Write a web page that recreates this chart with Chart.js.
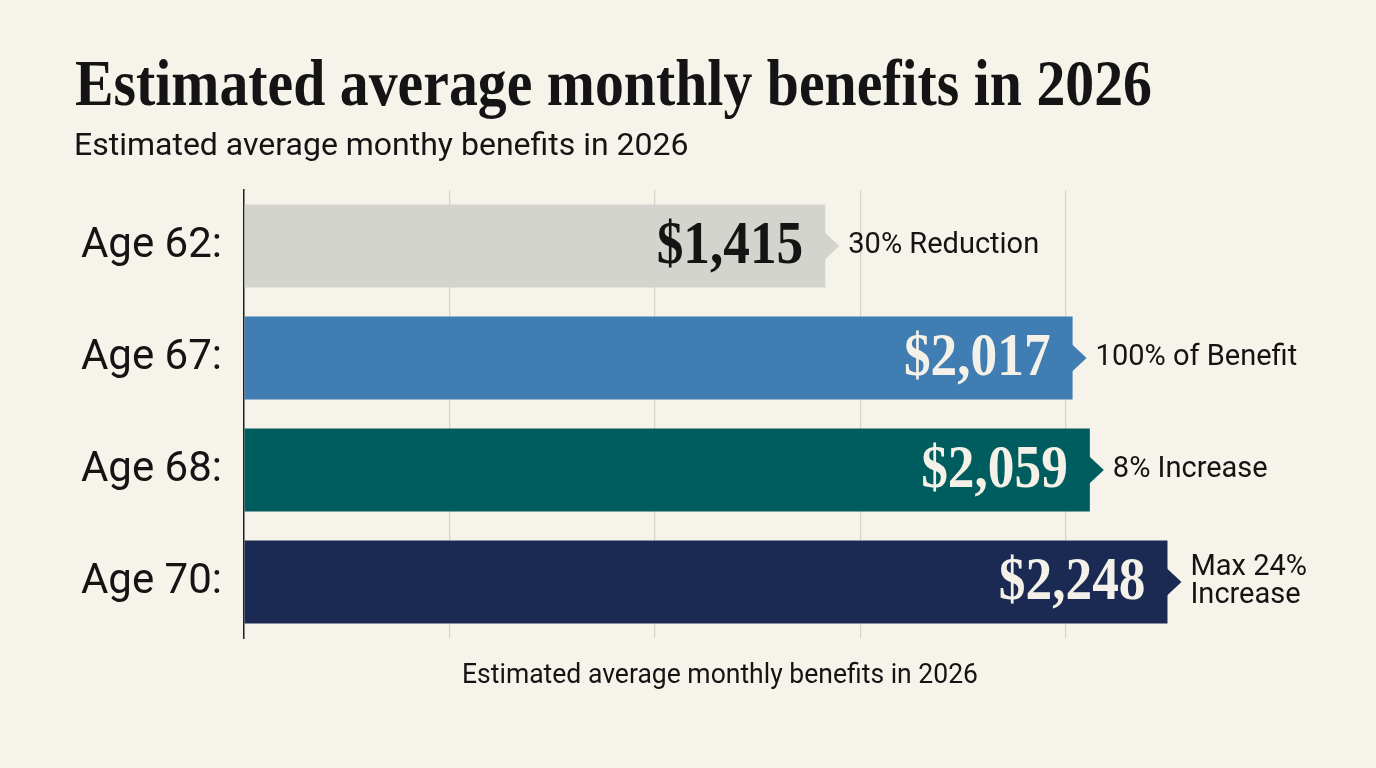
<!DOCTYPE html>
<html>
<head>
<meta charset="utf-8">
<title>Estimated average monthly benefits in 2026</title>
<script src="https://cdn.jsdelivr.net/npm/chart.js@4.4.1/dist/chart.umd.min.js"></script>
<style>
  html, body { margin: 0; padding: 0; background: #f6f3ea; }
  #wrap { width: 1376px; height: 768px; position: relative; }
</style>
</head>
<body>
<div id="wrap"><canvas id="benefitsChart"></canvas></div>
<script>
// data
var ages = ['Age 62:', 'Age 67:', 'Age 68:', 'Age 70:'];
var benefits = [1415, 2017, 2059, 2248];
var valueLabels = ['$1,415', '$2,017', '$2,059', '$2,248'];
var notes = [['30% Reduction'], ['100% of Benefit'], ['8% Increase'], ['Max 24%', 'Increase']];
var gridTicks = [500, 1000, 1500, 2000];

var titleText = 'Estimated average monthly benefits in 2026';
var subtitleText = 'Estimated average monthy benefits in 2026';
var axisTitleText = 'Estimated average monthly benefits in 2026';

var barColors = ['#d4d4cf', '#3f7db3', '#005d5f', '#1a2a53'];
var valueColors = ['#141414', '#f4f1e8', '#f4f1e8', '#f4f1e8'];
var bg = '#f6f3ea';
var ink = '#141414';

// draw text squeezed/stretched to a given width (the reference uses condensed faces)
function fitText(ctx, text, x, y, width) {
  var w = ctx.measureText(text).width;
  ctx.save();
  ctx.translate(x, y);
  ctx.scale(width / w, 1);
  ctx.textAlign = 'left';
  ctx.fillText(text, 0, 0);
  ctx.restore();
}

var decorPlugin = {
  id: 'decor',
  beforeDraw: function(chart) {
    var ctx = chart.ctx;
    ctx.save();
    ctx.fillStyle = bg;
    ctx.fillRect(0, 0, chart.width, chart.height);
    ctx.restore();
  },
  afterDraw: function(chart) {
    var ctx = chart.ctx;
    ctx.save();
    ctx.fillStyle = ink;
    ctx.textBaseline = 'alphabetic';

    ctx.font = 'bold 65px "Liberation Serif"';
    fitText(ctx, titleText, 75, 105, 1077);

    ctx.font = '32px Roboto';
    ctx.textAlign = 'left';
    ctx.fillText(subtitleText, 74, 155);

    ctx.font = '28px Roboto';
    fitText(ctx, axisTitleText, 462, 683, 516);
    ctx.restore();
  },
  afterDatasetsDraw: function(chart) {
    var ctx = chart.ctx;
    var meta = chart.getDatasetMeta(0);
    ctx.save();
    for (var i = 0; i < meta.data.length; i++) {
      var bar = meta.data[i];
      var end = bar.x;
      var cy = bar.y;

      // little pointer at the end of each bar
      ctx.fillStyle = barColors[i];
      ctx.beginPath();
      ctx.moveTo(end - 1, cy - 14);
      ctx.lineTo(end + 14, cy);
      ctx.lineTo(end - 1, cy + 14);
      ctx.closePath();
      ctx.fill();

      // value inside the bar
      ctx.save();
      ctx.fillStyle = valueColors[i];
      ctx.font = 'bold 62px "Liberation Serif"';
      ctx.textAlign = 'right';
      ctx.textBaseline = 'middle';
      ctx.translate(end - 22, cy + 1);
      ctx.scale(0.86, 1);
      ctx.fillText(valueLabels[i], 0, 0);
      ctx.restore();

      // note to the right
      ctx.fillStyle = ink;
      ctx.font = '29px Roboto';
      ctx.textAlign = 'left';
      ctx.textBaseline = 'middle';
      var lines = notes[i];
      var lh = 28;
      var y0 = cy - (lines.length - 1) * lh / 2;
      for (var j = 0; j < lines.length; j++) {
        ctx.fillText(lines[j], end + 23, y0 + j * lh);
      }
    }
    ctx.restore();
  }
};

var ctx = document.getElementById('benefitsChart').getContext('2d');
var benefitsChart = new Chart(ctx, {
  type: 'bar',
  data: {
    labels: ages,
    datasets: [{
      data: benefits,
      backgroundColor: barColors,
      borderWidth: 0,
      barPercentage: 0.74,
      categoryPercentage: 1
    }]
  },
  options: {
    indexAxis: 'y',
    responsive: true,
    maintainAspectRatio: false,
    animation: false,
    layout: {
      padding: { top: 190, right: 105, bottom: 130, left: 0 }
    },
    plugins: {
      legend: { display: false },
      tooltip: { enabled: false },
      title: { display: false }
    },
    scales: {
      x: {
        min: 0,
        max: 2500,
        ticks: { display: false, stepSize: 500 },
        border: { display: false },
        grid: {
          drawTicks: false,
          lineWidth: 1.2,
          color: function(c) {
            return gridTicks.indexOf(c.tick.value) >= 0 ? '#d6d3c8' : 'rgba(0,0,0,0)';
          }
        }
      },
      y: {
        afterFit: function(scale) { scale.width = 244; },
        grid: { display: false, drawTicks: false },
        border: { display: true, color: '#1e1e1e', width: 1.5 },
        ticks: {
          color: ink,
          padding: 22,
          font: { family: 'Roboto', size: 42 }
        }
      }
    }
  },
  plugins: [decorPlugin]
});
</script>
</body>
</html>
